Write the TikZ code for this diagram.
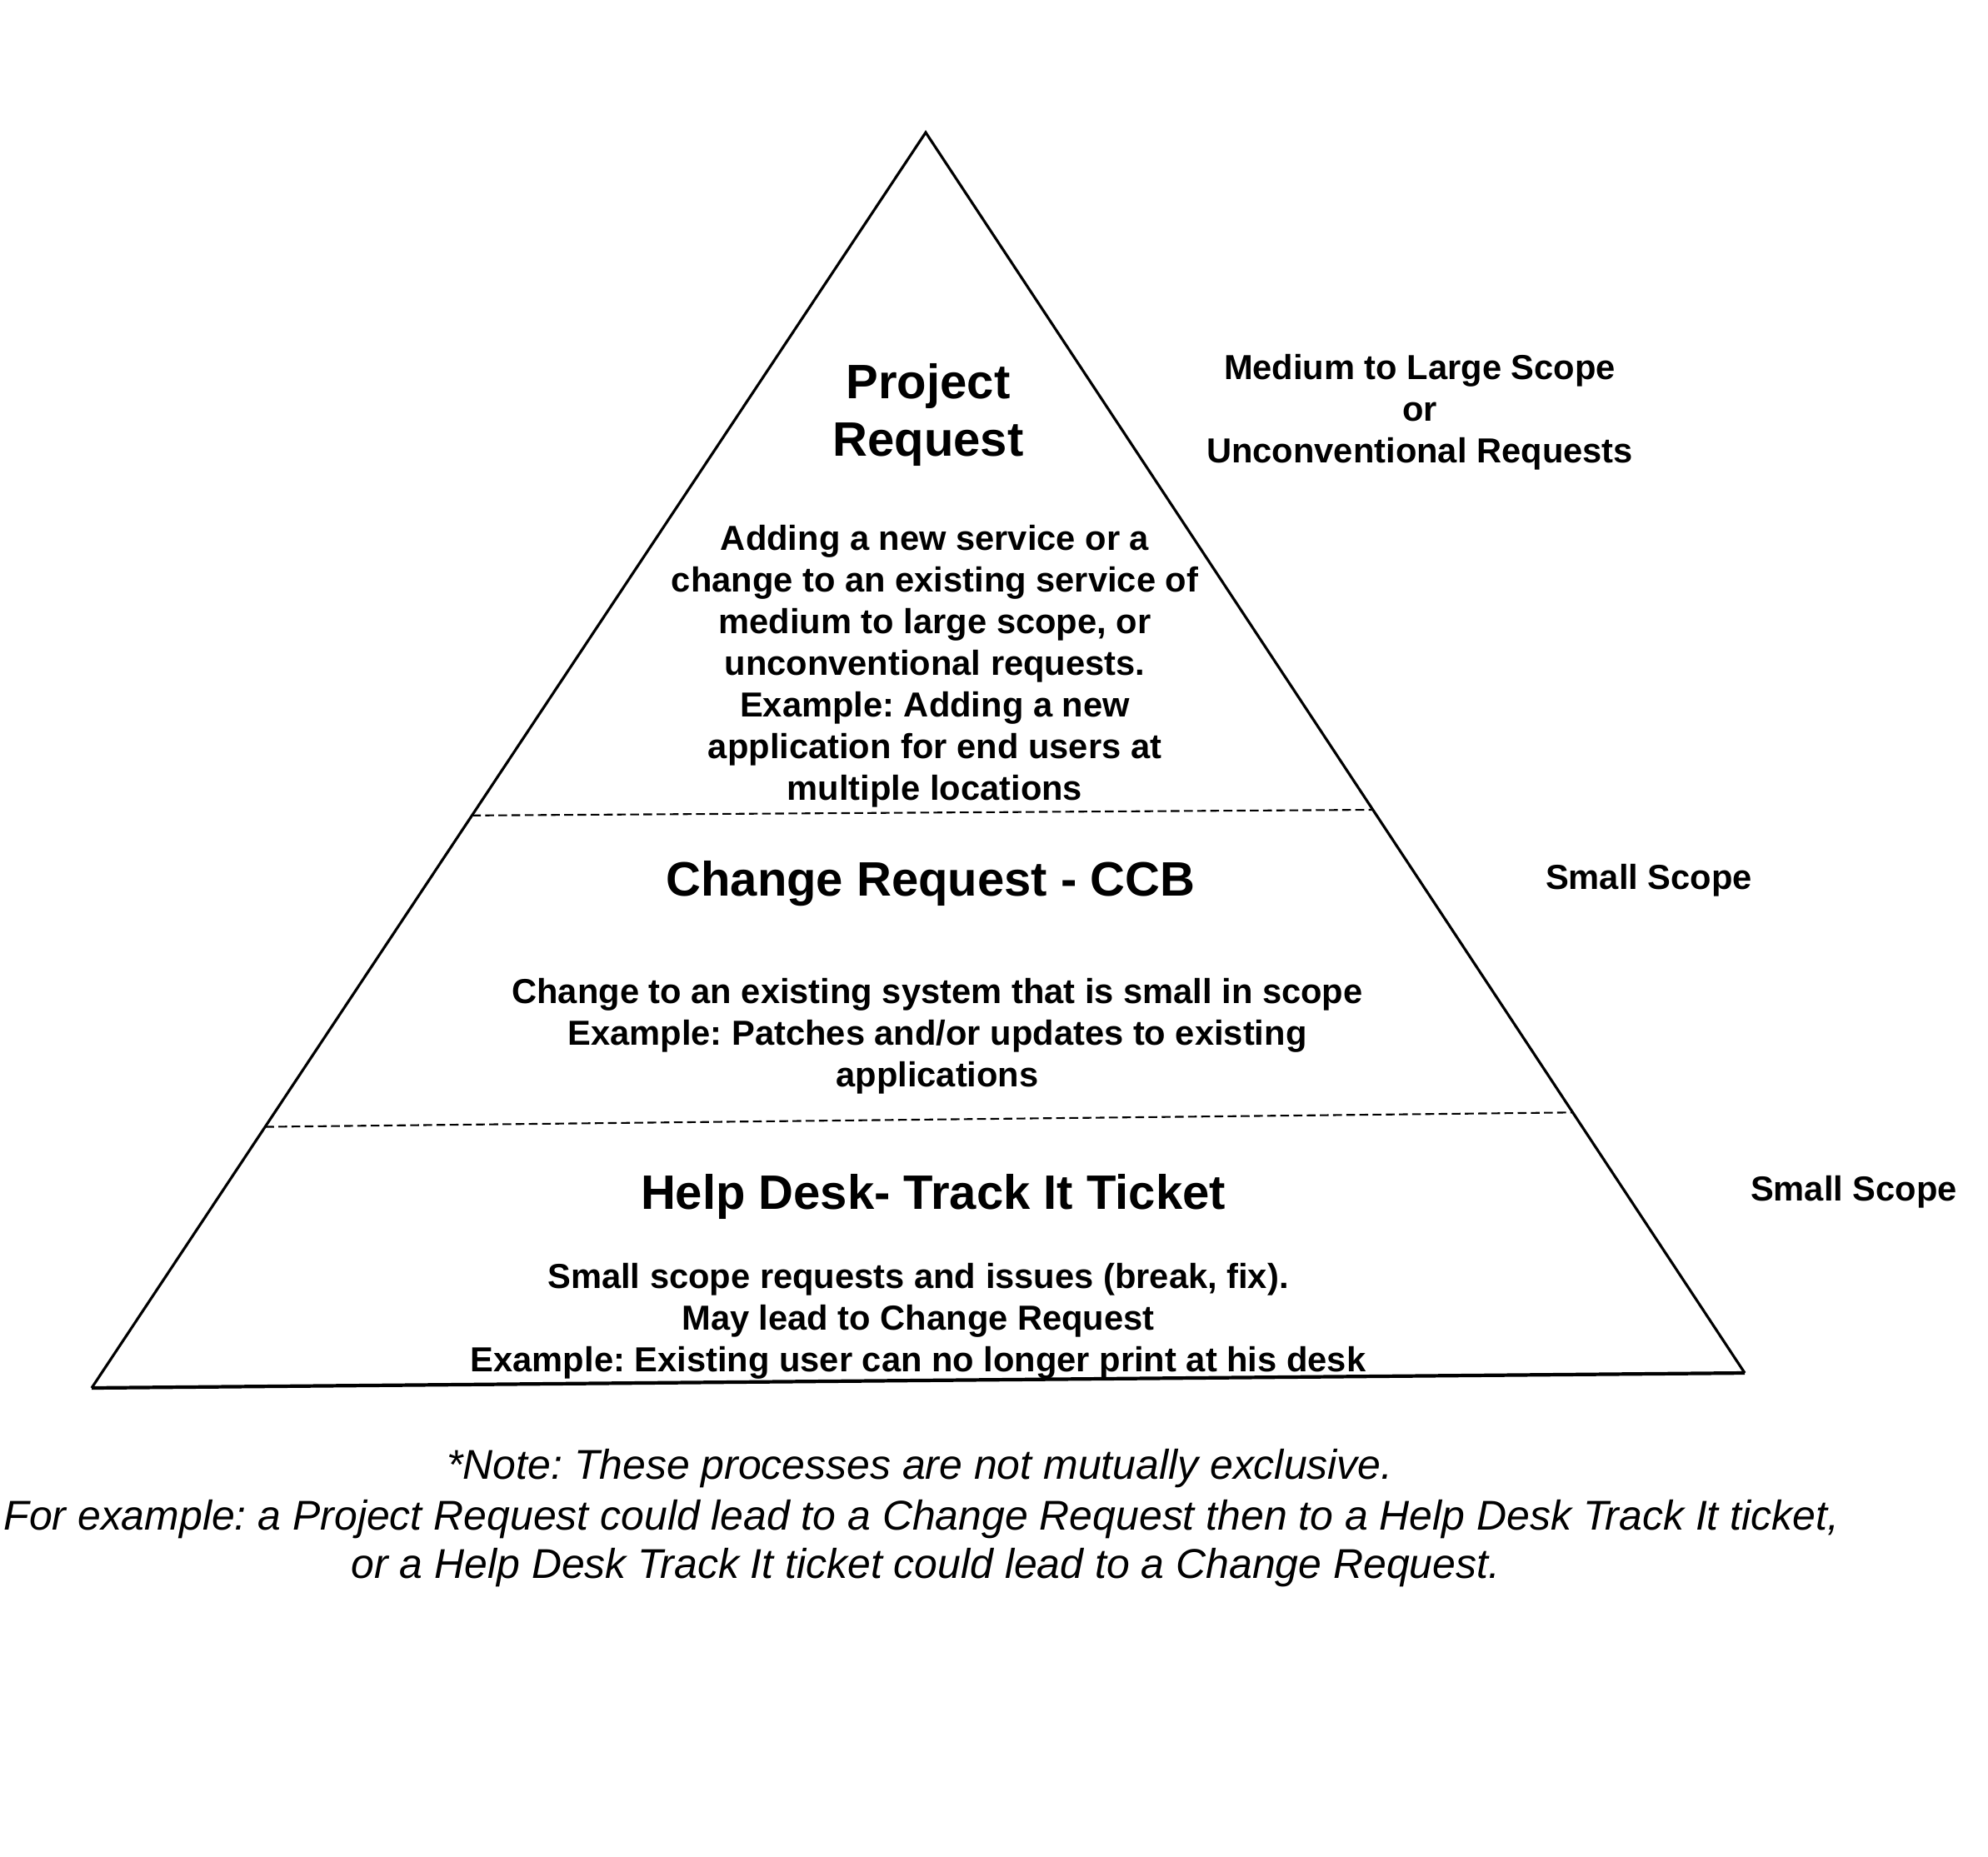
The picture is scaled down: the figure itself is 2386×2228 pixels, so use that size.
\documentclass[tikz,border=0pt]{standalone}
\usepackage{fontspec}
\setmainfont{Liberation Sans}
\usetikzlibrary{calc}
\frenchspacing
\begin{document}
\begin{tikzpicture}[x=0.01cm,y=-0.01cm,
  titletext/.style={font=\bfseries\fontsize{16.5}{19.9}\selectfont, align=center, inner sep=0pt},
  bodytext/.style={font=\bfseries\fontsize{11.85}{14.2}\selectfont, align=center, inner sep=0pt},
  notetext/.style={font=\itshape\fontsize{14.2}{17}\selectfont, inner sep=0pt},
  sideline/.style={draw=black, line width=0.9pt},
  baseline/.style={draw=black, line width=1.2pt},
  levelline/.style={draw=black, line width=0.6pt, dash pattern=on 3pt off 1.5pt}]
\useasboundingbox (0,0) rectangle (2386,2228);
\fill[white] (0,0) rectangle (2386,2228);
% pyramid corners
\coordinate (apex) at (1111,159);
\coordinate (bl) at (110,1666);
\coordinate (br) at (2094,1648);
\draw[sideline] (bl) -- (apex) -- (br);
\draw[baseline] (bl) -- (br);
% level separators
\coordinate (l1) at ($(apex)!0.544!(bl)$);
\coordinate (r1) at ($(apex)!0.546!(br)$);
\coordinate (l2) at ($(apex)!0.792!(bl)$);
\coordinate (r2) at ($(apex)!0.790!(br)$);
\draw[levelline] (l1) -- (r1);
\draw[levelline] (l2) -- (r2);
% texts inside
\node[titletext] (pr) at (1114,498) {Project\\Request};
\node[bodytext] (prb) at (1122,800) {Adding a new service or a\\change to an existing service of\\medium to large scope, or\\unconventional requests.\\ Example: Adding a new\\application for end users at\\multiple locations};
\node[titletext] (cr) at (1117,1061) {Change Request - CCB};
\node[bodytext] (crb) at (1125,1244) {Change to an existing system that is small in scope\\Example: Patches and/or updates to existing\\applications};
\node[titletext] (hd) at (1120,1436) {Help Desk- Track It Ticket};
\node[bodytext] (hdb) at (1102,1586) {Small scope requests and issues (break, fix).\\May lead to Change Request\\Example: Existing user can no longer print at his desk};
% scope labels
\node[bodytext] (s1) at (1704,495) {Medium to Large Scope\\or\\Unconventional Requests};
\node[bodytext] (s2) at (1979,1057) {Small Scope};
\node[bodytext] (s3) at (2225,1431) {Small Scope};
% note
\node[notetext] (n1) at (1104,1763) {*Note: These processes are not mutually exclusive.};
\node[notetext] (n2) at (1106,1824) {For example: a Project Request could lead to a Change Request then to a Help Desk Track It ticket,};
\node[notetext] (n3) at (1111,1882) {or a Help Desk Track It ticket could lead to a Change Request.};
\end{tikzpicture}
\end{document}
